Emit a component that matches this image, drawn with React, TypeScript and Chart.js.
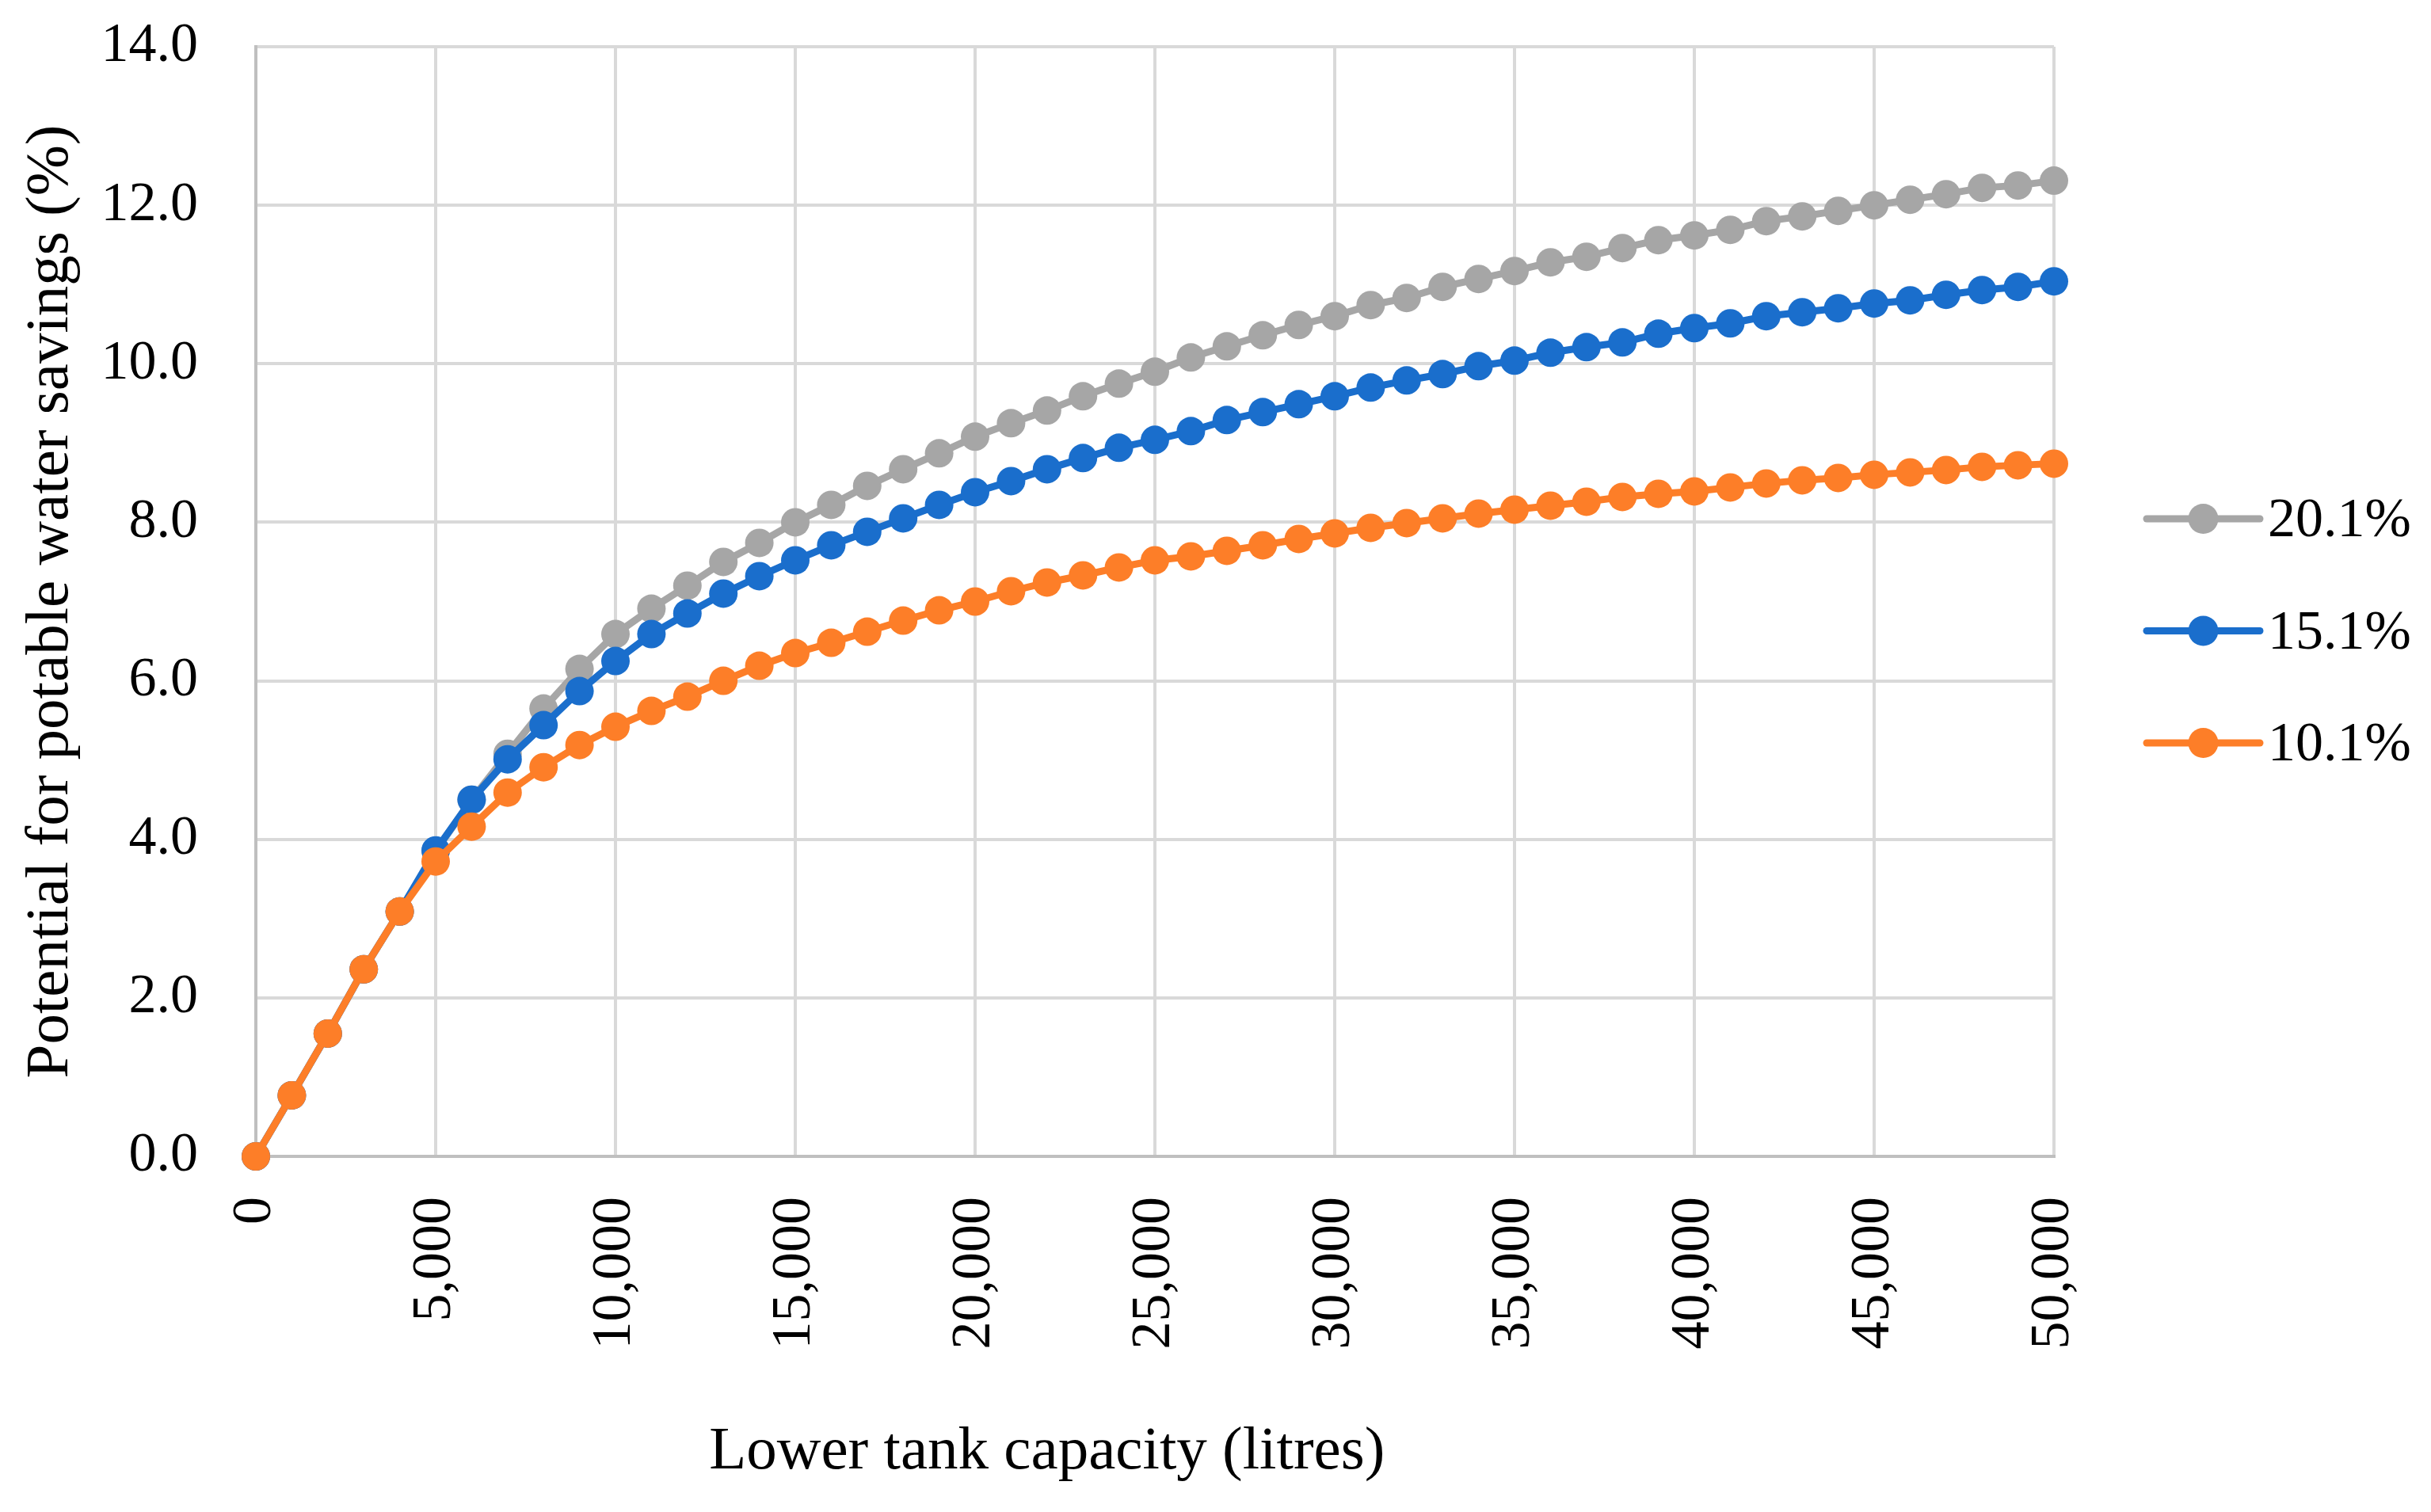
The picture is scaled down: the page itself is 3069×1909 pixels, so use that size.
import React, { useEffect, useRef } from "react";
import { Chart, registerables } from "chart.js";

Chart.register(...registerables);

const capacities = [
  0, 1000, 2000, 3000, 4000, 5000, 6000, 7000, 8000, 9000,
  10000, 11000, 12000, 13000, 14000, 15000, 16000, 17000, 18000, 19000,
  20000, 21000, 22000, 23000, 24000, 25000, 26000, 27000, 28000, 29000,
  30000, 31000, 32000, 33000, 34000, 35000, 36000, 37000, 38000, 39000,
  40000, 41000, 42000, 43000, 44000, 45000, 46000, 47000, 48000, 49000,
  50000,
];

const savings201 = [
  0, 0.77, 1.55, 2.36, 3.09, 3.85, 4.5, 5.08, 5.65, 6.15,
  6.59, 6.91, 7.2, 7.5, 7.74, 8.0, 8.22, 8.46, 8.67, 8.87,
  9.08, 9.25, 9.41, 9.59, 9.75, 9.9, 10.08, 10.22, 10.36, 10.49,
  10.6, 10.74, 10.83, 10.97, 11.07, 11.17, 11.28, 11.35, 11.46, 11.56,
  11.62, 11.69, 11.8, 11.86, 11.93, 12.0, 12.07, 12.14, 12.22, 12.25,
  12.31,
];

const savings151 = [
  0, 0.77, 1.55, 2.36, 3.09, 3.86, 4.5, 5.01, 5.44, 5.87,
  6.25, 6.59, 6.85, 7.1, 7.32, 7.52, 7.71, 7.88, 8.05, 8.22,
  8.38, 8.52, 8.67, 8.81, 8.94, 9.04, 9.15, 9.29, 9.39, 9.49,
  9.59, 9.7, 9.79, 9.87, 9.97, 10.04, 10.14, 10.21, 10.27, 10.38,
  10.45, 10.51, 10.6, 10.65, 10.7, 10.76, 10.8, 10.87, 10.93, 10.97,
  11.04,
];

const savings101 = [
  0, 0.77, 1.55, 2.36, 3.09, 3.72, 4.16, 4.59, 4.91, 5.19,
  5.42, 5.62, 5.8, 6.0, 6.19, 6.35, 6.48, 6.62, 6.76, 6.89,
  7.0, 7.13, 7.24, 7.33, 7.43, 7.52, 7.57, 7.64, 7.71, 7.79,
  7.86, 7.93, 7.99, 8.05, 8.11, 8.16, 8.21, 8.26, 8.32, 8.36,
  8.39, 8.44, 8.49, 8.53, 8.56, 8.6, 8.63, 8.66, 8.7, 8.72,
  8.74,
];

const seriesLabels = ["10.1%", "15.1%", "20.1%"];
const seriesColors = ["#FD7E28", "#1A6ECC", "#A6A6A6"];

const xTitle = "Lower tank capacity (litres)";
const yTitle = "Potential for potable water savings (%)";

const FONT = "'Liberation Serif', 'DejaVu Serif', serif";

const overlayPlugin = {
  id: "overlayText",
  afterDraw(chart: any) {
    const { ctx, chartArea } = chart;
    ctx.save();
    // x-axis title
    ctx.fillStyle = "#000";
    ctx.font = `77px ${FONT}`;
    ctx.textAlign = "center";
    ctx.textBaseline = "middle";
    const tx = chartArea.left + chartArea.width * 0.44;
    ctx.fillText(xTitle, tx, chartArea.bottom + 374);

    // legend (reverse order: 20.1%, 15.1%, 10.1%)
    const ds = chart.data.datasets.slice().reverse();
    const lx = chartArea.right + 117;
    const lineLen = 143;
    ds.forEach((d: any, i: number) => {
      const y = chartArea.top + 596 + i * 141.5;
      ctx.strokeStyle = d.borderColor;
      ctx.lineWidth = 9;
      ctx.lineCap = "round";
      ctx.beginPath();
      ctx.moveTo(lx, y);
      ctx.lineTo(lx + lineLen, y);
      ctx.stroke();
      ctx.fillStyle = d.pointBackgroundColor;
      ctx.beginPath();
      ctx.arc(lx + lineLen / 2, y, 19, 0, Math.PI * 2);
      ctx.fill();
      ctx.fillStyle = "#000";
      ctx.font = `70px ${FONT}`;
      ctx.textAlign = "left";
      ctx.textBaseline = "middle";
      ctx.fillText(d.label, lx + lineLen + 10, y + 4);
    });
    ctx.restore();
  },
};

export default function App() {
  const ref = useRef<HTMLCanvasElement | null>(null);

  useEffect(() => {
    if (!ref.current) return;
    const allSeries = [savings101, savings151, savings201];
    const chart = new Chart(ref.current, {
      type: "line",
      data: {
        datasets: allSeries.map((vals, i) => ({
          label: seriesLabels[i],
          data: capacities.map((c, j) => ({ x: c, y: vals[j] })),
          borderColor: seriesColors[i],
          backgroundColor: seriesColors[i],
          pointBackgroundColor: seriesColors[i],
          pointBorderWidth: 0,
          pointRadius: 18,
          borderWidth: 9,
          tension: 0,
          clip: false as any,
        })),
      },
      options: {
        animation: false,
        responsive: false,
        devicePixelRatio: 1,
        layout: { padding: { left: 0, top: 59, right: 476, bottom: 0 } },
        plugins: {
          legend: { display: false },
          tooltip: { enabled: false },
        },
        scales: {
          x: {
            type: "linear",
            min: 0,
            max: 50000,
            grid: {
              color: "#D9D9D9",
              lineWidth: 4,
              drawTicks: true,
              tickLength: 41,
              tickColor: "rgba(0,0,0,0)",
            },
            border: { color: "#BFBFBF", width: 4 },
            ticks: {
              stepSize: 5000,
              autoSkip: false,
              minRotation: 90,
              maxRotation: 90,
              padding: 10,
              color: "#000",
              font: { family: FONT, size: 70 },
              callback: (v: any) => Number(v).toLocaleString("en-US"),
            },
            afterFit: (scale: any) => {
              scale.height = 449;
            },
          },
          y: {
            min: 0,
            max: 14,
            grid: {
              color: "#D9D9D9",
              lineWidth: 4,
              drawTicks: true,
              tickLength: 63,
              tickColor: "rgba(0,0,0,0)",
            },
            border: { color: "#BFBFBF", width: 4 },
            ticks: {
              stepSize: 2,
              padding: 10,
              color: "#000",
              font: { family: FONT, size: 70 },
              callback: (v: any) => Number(v).toFixed(1),
            },
            title: {
              display: true,
              text: yTitle,
              color: "#000",
              font: { family: FONT, size: 77 },
              padding: { top: 19, bottom: 0 },
            },
            afterFit: (scale: any) => {
              scale.width = 323;
            },
          },
        },
      },
      plugins: [overlayPlugin],
    });
    return () => chart.destroy();
  }, []);

  return (
    <div style={{ position: "absolute", left: 0, top: 0, width: 3069, height: 1909, background: "#fff" }}>
      <canvas ref={ref} width={3069} height={1909} style={{ width: 3069, height: 1909, display: "block" }} />
    </div>
  );
}
